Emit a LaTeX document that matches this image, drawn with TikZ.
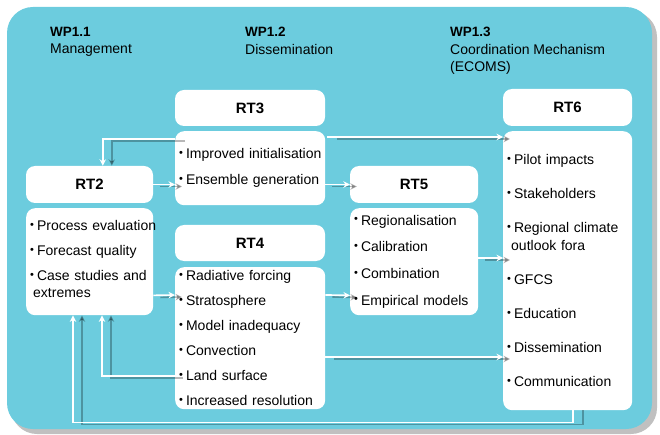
\documentclass[tikz,border=0pt]{standalone}
\usepackage{fontspec}
\setmainfont{Liberation Sans}
\usepackage{xcolor}
\usepackage{tikz}
\usetikzlibrary{arrows.meta, calc}

\definecolor{wpcyan}{RGB}{108,204,222}
\definecolor{frameshadow}{RGB}{192,192,192}
\newcommand{\itm}{\raisebox{2.5pt}{\fontsize{11}{11}\selectfont\textbullet}\kern3pt}

\begin{document}
\begin{tikzpicture}[
  x=1pt, y=-1pt,
  head/.style={rectangle, fill=white, rounded corners=9pt, inner sep=0pt, font=\fontsize{15}{18}\selectfont\bfseries},
  items/.style={rectangle, fill=white, rounded corners=9pt, anchor=north west, inner xsep=4pt, inner ysep=0pt, align=left, font=\fontsize{14}{17}\selectfont},
  wp/.style={anchor=north west, inner sep=0pt, align=left, font=\fontsize{14}{17.5}\selectfont},
  link/.style={draw=white, line width=1.7pt, -{Stealth[length=6.5pt,width=6.5pt]}},
  ghost/.style={draw=black, opacity=0.28, line width=1.7pt, -{Stealth[length=6.5pt,width=6.5pt]}}
]
\useasboundingbox (0,0) rectangle (660,435);

%% Frame
\fill[frameshadow, rounded corners=26pt] (11,11) rectangle (657,434);
\fill[wpcyan, rounded corners=26pt] (7,7) rectangle (652,429);

%% Work packages
\node[wp] (wp11) at (50,27) {\textbf{\fontsize{13.5}{17.5}\selectfont WP1.1}\\Management};
\node[wp] (wp12) at (245,27) {\textbf{\fontsize{13.5}{17.5}\selectfont WP1.2}\\Dissemination};
\node[wp] (wp13) at (450,27) {\textbf{\fontsize{13.5}{17.5}\selectfont WP1.3}\\Coordination Mechanism\\(ECOMS)};

%% Headers
\node[head, minimum width=127pt, minimum height=37pt] (rt2) at (89.5,184.5) {RT2};
\node[head, minimum width=150pt, minimum height=36pt] (rt3) at (250,108) {RT3};
\node[head, minimum width=150pt, minimum height=36pt] (rt4) at (250,243) {RT4};
\node[head, minimum width=128pt, minimum height=37pt] (rt5) at (414,184.5) {RT5};
\node[head, minimum width=129pt, minimum height=37pt] (rt6) at (567.5,107.5) {RT6};

%% Item lists
\node[items, text width=119pt, minimum height=107pt] (rt2items) at (26,208) {%
  \itm \mbox{Process evaluation}\\[8pt]
  \itm Forecast quality\\[8pt]
  \itm Case studies and\\[0pt]
  \hspace*{3pt}extremes\\[-12pt]
  \mbox{}};
\node[items, text width=142pt, minimum height=74pt] (rt3items) at (175,131) {%
  \itm \mbox{Improved initialisation}\\[9pt]
  \itm Ensemble generation};
\node[items, text width=142pt, minimum height=142pt] (rt4items) at (175,267) {%
  \itm Radiative forcing\\[8pt]
  \itm Stratosphere\\[8pt]
  \itm Model inadequacy\\[8pt]
  \itm Convection\\[8pt]
  \itm Land surface\\[8pt]
  \itm Increased resolution};
\node[items, text width=120pt, minimum height=107pt] (rt5items) at (350,208) {%
  \itm Regionalisation\\[9.7pt]
  \itm Calibration\\[9.7pt]
  \itm Combination\\[9.7pt]
  \itm Empirical models};
\node[items, text width=121pt, minimum height=279pt] (rt6items) at (503,131) {%
  \itm Pilot impacts\\[17pt]
  \itm Stakeholders\\[17pt]
  \itm Regional climate\\[1pt]
  \hspace*{4pt}outlook fora\\[17pt]
  \itm GFCS\\[17pt]
  \itm Education\\[17pt]
  \itm Dissemination\\[17pt]
  \itm Communication};

%% Shadows of the arrows
\draw[ghost] ($(rt3items.north west)+(10,10)$) -| ($(rt2.north west)+(86,0)$);
\draw[ghost] ($(rt3items.north east)+(12,8)$) -- ($(rt6items.north west)+(7,8)$);
\draw[ghost] ($(rt2.east)+(7,2)$) -- ($(rt3items.west |- rt2.east)+(7,2)$);
\draw[ghost] ($(rt3items.east |- rt5.west)+(7,2)$) -- ($(rt5.west)+(7,2)$);
\draw[ghost] ($(rt2items.south east)+(7,-18)$) -- ($(rt4items.north west)+(7,30)$);
\draw[ghost] ($(rt4items.north east)+(7,30)$) -- ($(rt5items.south west)+(7,-18)$);
\draw[ghost] ($(rt5items.north east)+(7,52)$) -- ($(rt6items.north west)+(7,129)$);
\draw[ghost] ($(rt4items.north east)+(9,92)$) -- ($(rt6items.north west)+(7,228)$);
\draw[ghost] ($(rt4items.north west)+(8,111)$) -| ($(rt2items.south west)+(85,0)$);
\draw[ghost] ($(rt6items.south west)+(80,0)$) -- ++(0,14) -| ($(rt2items.south west)+(56,0)$);

%% Arrows
\draw[link] ($(rt3items.north west)+(0,8)$) -| ($(rt2.north west)+(77,0)$);
\draw[link] ($(rt3items.north east)+(2,6)$) -- ($(rt6items.north west)+(0,6)$);
\draw[link] (rt2.east) -- (rt3items.west |- rt2.east);
\draw[link] (rt3items.east |- rt5.west) -- (rt5.west);
\draw[link] ($(rt2items.south east)+(0,-20)$) -- ($(rt4items.north west)+(0,28)$);
\draw[link] ($(rt4items.north east)+(0,28)$) -- ($(rt5items.south west)+(0,-20)$);
\draw[link] ($(rt5items.north east)+(0,50)$) -- ($(rt6items.north west)+(0,127)$);
\draw[link] ($(rt4items.north east)+(0,90)$) -- ($(rt6items.north west)+(0,226)$);
\draw[link] ($(rt4items.north west)+(0,109)$) -| ($(rt2items.south west)+(76,0)$);
\draw[link] ($(rt6items.south west)+(70,0)$) -- ++(0,12) -| ($(rt2items.south west)+(47,0)$);

\end{tikzpicture}
\end{document}
